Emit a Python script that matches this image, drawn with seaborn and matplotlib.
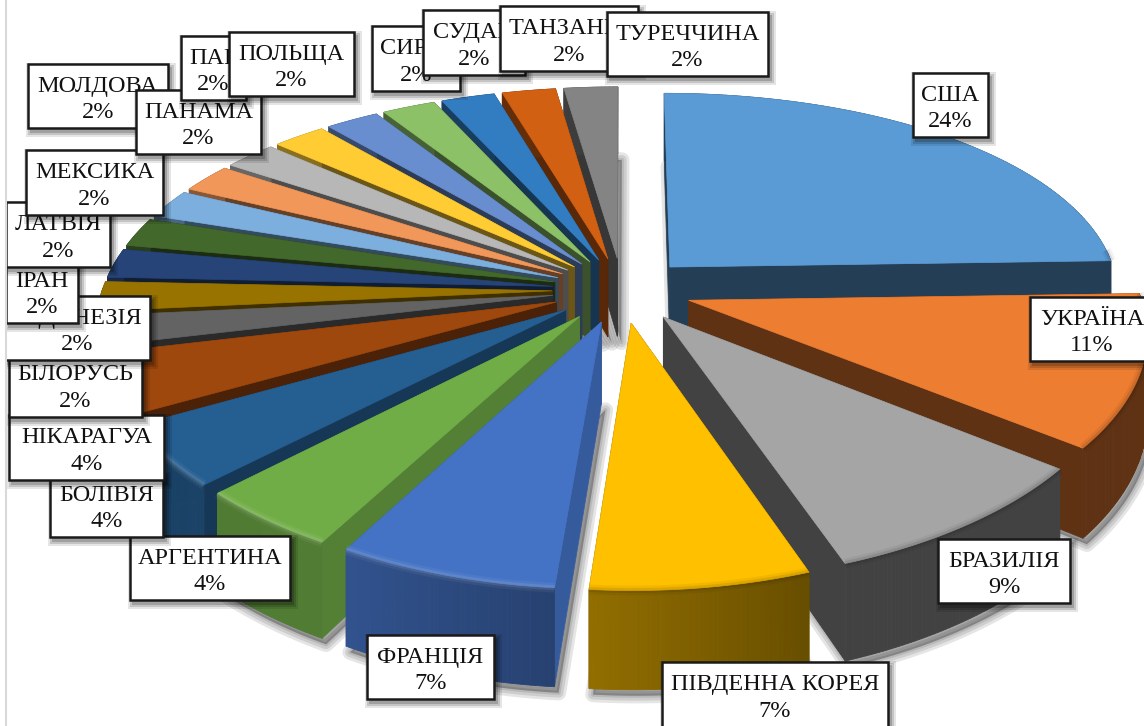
import numpy as np
import matplotlib
matplotlib.use("Agg")
import matplotlib.pyplot as plt
from matplotlib.patches import Polygon, Rectangle
import seaborn as sns

countries = ["США", "УКРАЇНА", "БРАЗИЛІЯ", "ПІВДЕННА КОРЕЯ", "ФРАНЦІЯ", "АРГЕНТИНА",
             "БОЛІВІЯ", "НІКАРАГУА", "БІЛОРУСЬ", "ІНДОНЕЗІЯ", "ІРАН", "ЛАТВІЯ",
             "МЕКСИКА", "МОЛДОВА", "ПАНАМА", "ПАР", "ПОЛЬЩА", "СИРІЯ", "СУДАН",
             "ТАНЗАНІЯ", "ТУРЕЧЧИНА"]
shares = [24.4, 11.1, 8.9, 6.7, 6.7, 4.4, 4.4, 4.4, 2.2, 2.2, 2.2, 2.2,
          2.2, 2.2, 2.2, 2.2, 2.2, 2.2, 2.2, 2.2, 2.2]
colors = ["#5B9BD5", "#ED7D31", "#A5A5A5", "#FFC000", "#4472C4", "#70AD47",
          "#255E91", "#9E480E", "#636363", "#997300", "#264478", "#43682B",
          "#7CAFDD", "#F1975A", "#B7B7B7", "#FFCD33", "#698ED0", "#8CC168",
          "#327DC2", "#D26012", "#848484"]

# label boxes as left, top, right, bottom in pixels
label_boxes = [(913, 73, 988, 137), (1030, 297, 1154, 361), (938, 539, 1070, 603),
               (662, 662, 888, 727), (367, 635, 494, 699), (130, 536, 290, 600),
               (50, 473, 163, 537), (9, 415, 164, 480), (9, 352, 142, 417),
               (4, 296, 150, 360), (6, 259, 78, 323), (6, 202, 110, 267),
               (26, 150, 163, 215), (28, 64, 168, 128), (136, 90, 261, 154),
               (181, 36, 246, 100), (229, 32, 354, 96), (372, 26, 460, 91),
               (423, 10, 525, 75), (500, 6, 638, 71), (607, 12, 768, 76)]

# projection of the exploded disc onto the picture
CX, CY = 622, 290
RX, RY = 450, 210
PERSP_X = 0.135
PERSP_Y = 0.168
EXPLODE = 0.155
DEPTH = 80


def project(u, v):
    s = 1 / (1 + PERSP_Y * v)
    return CX + RX * u / (1 + PERSP_X * v), CY - RY * v * s, s


def darker(color, f):
    return tuple(np.array(color) * f)


def wedge_outline(phi1, phi2):
    # phi is clockwise from the top of the disc, in degrees
    mid = np.radians((phi1 + phi2) / 2)
    ou, ov = EXPLODE * np.sin(mid), EXPLODE * np.cos(mid)
    phis = np.linspace(phi1, phi2, max(int(phi2 - phi1) * 2, 6))
    x, y, s = project(ou + np.sin(np.radians(phis)), ov + np.cos(np.radians(phis)))
    ax0, ay0, as0 = project(ou, ov)
    return phis, x, y, s, ax0, ay0, as0


def draw_shadow(ax, xy, dx, dy, alpha=0.10, widths=(11, 7, 3)):
    for lw in widths:
        ax.add_patch(Polygon(xy + np.array([dx, dy]), closed=True, fc="black", ec="black",
                             lw=lw, alpha=alpha, joinstyle="round", zorder=1))


sns.set_theme(style="white")
plt.rcParams["font.family"] = ["Liberation Serif", "DejaVu Serif"]
palette = sns.color_palette(colors)

fig, ax = plt.subplots(figsize=(11.44, 7.26), dpi=100)
fig.subplots_adjust(0, 0, 1, 1)

# the pie works out the angle span of every slice
pie_wedges, _ = ax.pie(shares, startangle=90, counterclock=False)
spans = [(90 - w.theta2, 90 - w.theta1) for w in pie_wedges]
for w in pie_wedges:
    w.remove()
ax.set_aspect("auto")
ax.set_xlim(0, 1144)
ax.set_ylim(726, 0)
ax.axis("off")

# ground shadows first
for phi1, phi2 in spans:
    phis, x, y, s, ax0, ay0, as0 = wedge_outline(phi1, phi2)
    bottom = np.column_stack([np.r_[ax0, x], np.r_[ay0 + DEPTH * as0, y + DEPTH * s]])
    draw_shadow(ax, bottom, 4, 6)

# back slices first so the front ones cover them
order = sorted(range(len(spans)), key=lambda i: -np.cos(np.radians(sum(spans[i]) / 2)))
for i in order:
    phi1, phi2 = spans[i]
    col = palette[i]
    phis, x, y, s, ax0, ay0, as0 = wedge_outline(phi1, phi2)
    d0 = DEPTH * as0

    # radial side walls
    if phi1 >= 180:
        side = np.interp(phi1, [184, 208, 224, 240, 256, 360], [.8, .75, .6, .48, .42, .42])
    else:
        side = 0.4
    ax.add_patch(Polygon([(ax0, ay0), (x[0], y[0]), (x[0], y[0] + DEPTH * s[0]), (ax0, ay0 + d0)],
                         fc=darker(col, side), ec=darker(col, side), lw=0.5, zorder=2))
    ax.add_patch(Polygon([(ax0, ay0), (x[-1], y[-1]), (x[-1], y[-1] + DEPTH * s[-1]), (ax0, ay0 + d0)],
                         fc=darker(col, side), ec=darker(col, side), lw=0.5, zorder=2))

    # outer wall in strips, to get the gradient along the rim
    for j in range(len(phis) - 1):
        f = np.interp((phis[j] + phis[j + 1]) / 2, [90, 160, 184, 208, 240, 360], [.4, .4, .57, .72, .7, .45])
        c = darker(col, f)
        ax.add_patch(Polygon([(x[j], y[j]), (x[j + 1], y[j + 1]),
                              (x[j + 1], y[j + 1] + DEPTH * s[j + 1]), (x[j], y[j] + DEPTH * s[j])],
                             fc=c, ec=c, lw=0.6, zorder=2))

    # top face
    ax.add_patch(Polygon(np.column_stack([np.r_[ax0, x], np.r_[ay0, y]]), closed=True,
                         fc=col, ec=col, lw=0.5, zorder=2))

    # soft bevel along the front part of the rim
    front = (phis > 85) & (phis < 265)
    if front.sum() > 1:
        bevel = "white" if phi1 > 180 else "black"
        for lw, a in ((7, 0.05), (3.5, 0.09)):
            ax.plot(x[front], y[front], color=bevel, lw=lw, alpha=a, solid_capstyle="butt", zorder=2)

# labels, each later one on top of the earlier ones
for i, (name, share, box) in enumerate(zip(countries, shares, label_boxes)):
    left, top, right, bottom = box
    z = 10 + i
    for pad, a in ((5, 0.10), (3, 0.14), (1, 0.18)):
        ax.add_patch(Rectangle((left + 3 - pad, top + 4 - pad), right - left + 2 * pad, bottom - top + 2 * pad,
                               fc="black", ec="none", alpha=a, zorder=z))
    ax.add_patch(Rectangle((left, top), right - left, bottom - top, fc="white", ec="#1a1a1a", lw=1.8, zorder=z))
    ax.text((left + right) / 2, (top + bottom) / 2 + 3.5, f"{name}\n{share:.0f}%", ha="center", va="center",
            fontsize=17.5, color="#111111", linespacing=1.36, zorder=z)

# chart area edge, labels get cut off here
ax.add_patch(Rectangle((0, 0), 6, 726, fc="white", ec="none", zorder=50))
ax.plot([6, 6], [0, 726], color="#d9d9d9", lw=1.5, zorder=51)

fig.savefig("out.png", dpi=100)
